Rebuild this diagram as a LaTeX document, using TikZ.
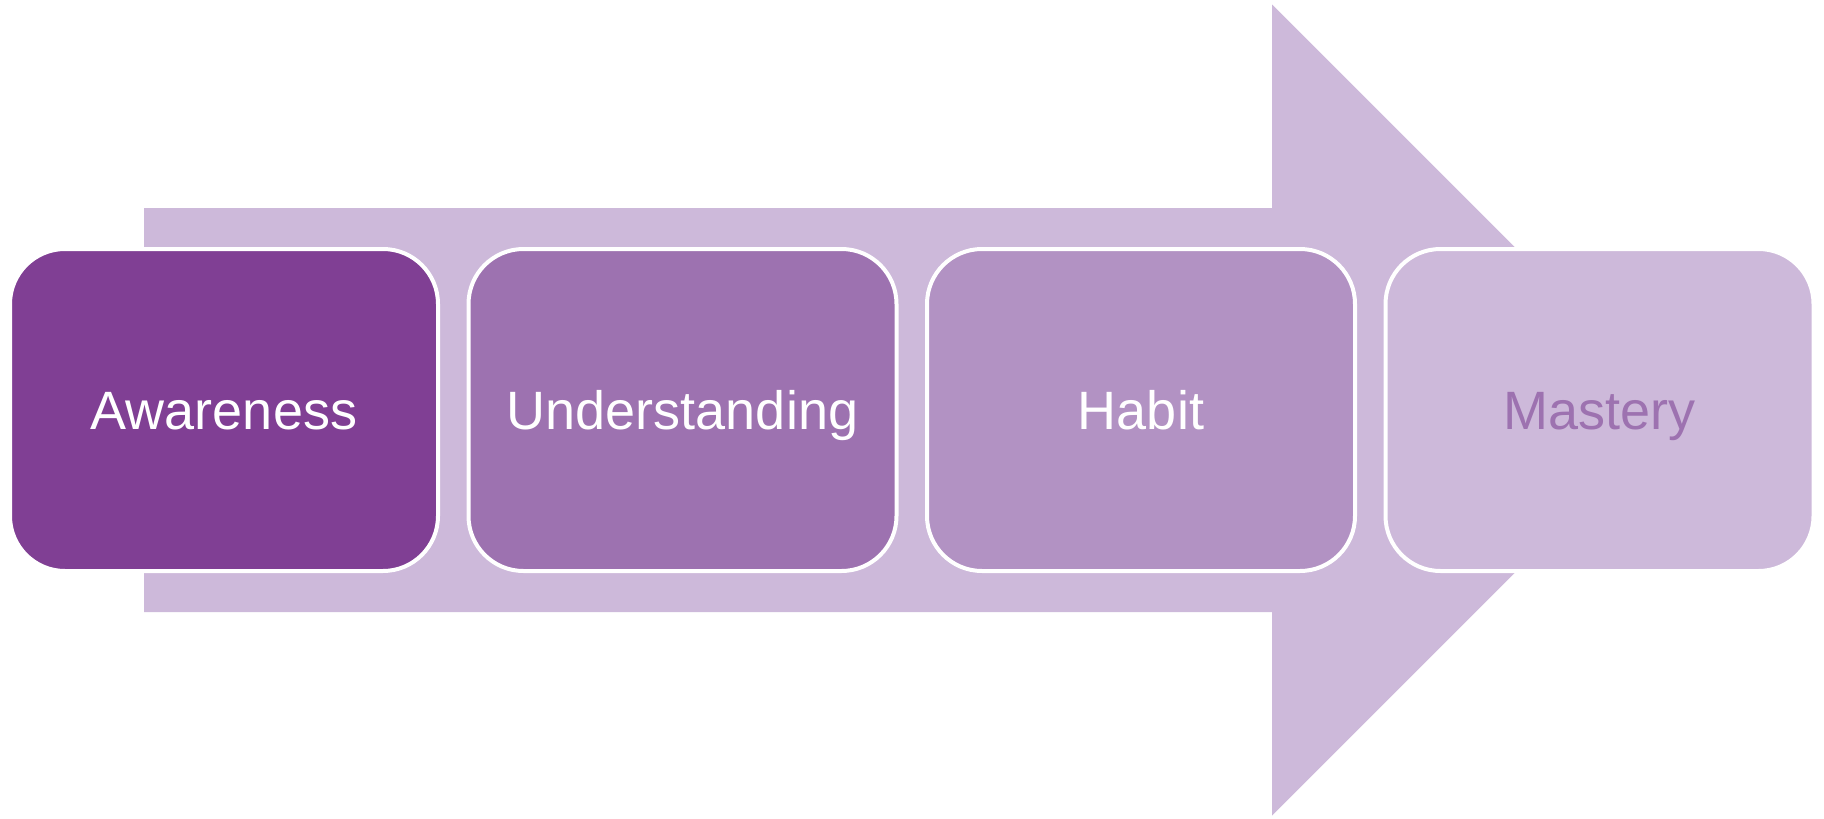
\documentclass[tikz,border=0pt]{standalone}
\usepackage{fontspec}
\setmainfont{Liberation Sans}
\definecolor{cA}{RGB}{128,63,148}
\definecolor{cB}{RGB}{157,114,176}
\definecolor{cC}{RGB}{178,146,195}
\definecolor{cD}{RGB}{205,185,218}
\begin{document}
\begin{tikzpicture}[x=1pt,y=-1pt,
  stepbox/.style={draw=white, line width=4pt, rounded corners=55pt,
    minimum width=428pt, minimum height=322pt, inner sep=0pt,
    text height=38.7pt, text depth=0pt,
    font=\fontsize{54}{60}\selectfont, text=white}]
\fill[white] (0,0) rectangle (1824,819);
\useasboundingbox (0,0) rectangle (1824,819);
\fill[cD] (144,208) -- (1272,208) -- (1272,4.5) -- (1677.5,410) -- (1272,815.5)
  -- (1272,612) -- (144,612) -- cycle;
\node[stepbox, fill=cA] (aw) at (224,410) {Awareness};
\node[stepbox, fill=cB] (un) at (682.5,410) {Understanding};
\node[stepbox, fill=cC] (ha) at (1141,410) {Habit};
\node[stepbox, fill=cD, text=cB] (ma) at (1599.5,410) {Mastery};
\end{tikzpicture}
\end{document}
